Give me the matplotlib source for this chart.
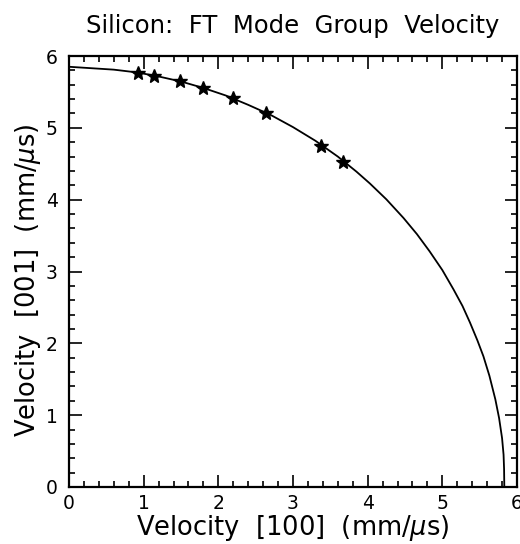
import matplotlib
matplotlib.use("Agg")
import matplotlib.pyplot as plt
from matplotlib.ticker import MultipleLocator

# Curve (group velocity surface)
curve_x = [0.0, 0.3, 0.6, 0.92, 1.2, 1.5, 1.8, 2.1, 2.4, 2.7, 3.0, 3.3, 3.6, 3.85,
           4.03, 4.25, 4.48, 4.66, 4.83, 5.0, 5.15, 5.27, 5.37, 5.47, 5.55, 5.63,
           5.71, 5.76, 5.80, 5.82, 5.827, 5.83]
curve_y = [5.85, 5.83, 5.81, 5.77, 5.715, 5.645, 5.555, 5.45, 5.32, 5.18, 5.01, 4.82,
           4.60, 4.39, 4.225, 4.005, 3.745, 3.52, 3.28, 3.02, 2.75, 2.52, 2.29, 2.04,
           1.82, 1.55, 1.22, 0.96, 0.68, 0.45, 0.25, 0.0]

# Star markers (measured points)
pts_x = [0.92, 1.14, 1.48, 1.80, 2.20, 2.64, 3.37, 3.67]
pts_y = [5.77, 5.72, 5.65, 5.56, 5.42, 5.20, 4.75, 4.52]

title = "Silicon:  FT  Mode  Group  Velocity"
xlabel = r"Velocity  [100]  (mm/$\mu$s)"
ylabel = r"Velocity  [001]  (mm/$\mu$s)"

fig = plt.figure(figsize=(5.2, 5.44), dpi=100)
ax = fig.add_axes([69/520, 57/544, (517-69)/520, (487-56)/544])

ax.plot(curve_x, curve_y, color="black", lw=1.3)
ax.plot(pts_x, pts_y, linestyle="none", marker="*", color="black", markersize=10)

ax.set_xlim(0, 6)
ax.set_ylim(0, 6)
ax.xaxis.set_major_locator(MultipleLocator(1))
ax.yaxis.set_major_locator(MultipleLocator(1))
ax.xaxis.set_minor_locator(MultipleLocator(0.2))
ax.yaxis.set_minor_locator(MultipleLocator(0.2))
ax.tick_params(which="both", direction="in", top=True, right=True, width=1.2, labelsize=13.5)
ax.tick_params(axis="y", pad=8)
ax.tick_params(axis="x", pad=5)
ax.tick_params(which="major", length=9)
ax.tick_params(which="minor", length=4.5)
for s in ax.spines.values():
    s.set_linewidth(1.6)

ax.set_xlabel(xlabel, fontsize=18.5, labelpad=0)
ax.set_ylabel(ylabel, fontsize=18.5)
ax.yaxis.set_label_coords(-0.058, 0.48)
fig.text((69+517)/2/520, 1 - 33/544, title, ha="center", va="baseline", fontsize=17.5)

fig.savefig("out.png", dpi=100)
